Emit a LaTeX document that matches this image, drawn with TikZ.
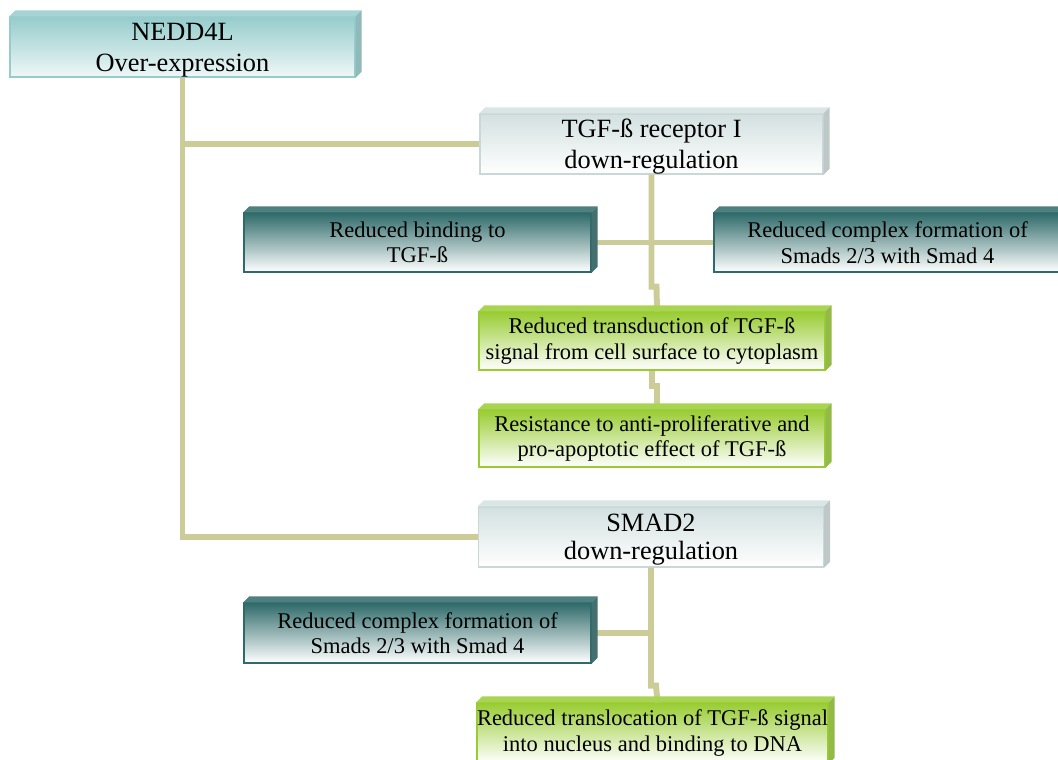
\documentclass[tikz,border=0pt]{standalone}
\usepackage{fontspec}
\setmainfont{Liberation Serif}
\usetikzlibrary{calc}

\definecolor{neddc}{HTML}{96CCCC}
\definecolor{greyc}{HTML}{D3E0E0}
\definecolor{darkc}{HTML}{2F6A6A}
\definecolor{greenc}{HTML}{99CC33}
\definecolor{linkc}{HTML}{CCCC99}

\begin{document}
\begin{tikzpicture}[x=0.02cm,y=-0.02cm,
  box/.style={draw,line width=0.8pt,inner sep=0pt,minimum height=1.2cm,
              align=center,font=\fontsize{12.8}{14.5}\selectfont},
  % big boxes: text sits a bit low
  bigbox/.style={box,font=\fontsize{15}{17.5}\selectfont,text depth=-6pt},
  nedd/.style={bigbox,draw=neddc,top color=neddc,bottom color=neddc!15},
  grey/.style={bigbox,draw=greyc!90!gray,top color=greyc,bottom color=white},
  dark/.style={box,draw=darkc,top color=darkc,middle color=darkc!35,bottom color=white},
  green/.style={box,draw=greenc,top color=greenc,middle color=greenc!30,bottom color=white},
  link/.style={draw=linkc,line width=3.4pt}
]
  \useasboundingbox (0,0) rectangle (1058,760);

  % Boxes: NEDD4L top-left, two branches down the middle
  \node[nedd,minimum width=6.9cm]   (nedd)   at (182.5,47)  {NEDD4L\\Over-expression};
  \node[grey,minimum width=6.86cm]  (tgfr)   at (651.5,144) {TGF-ß receptor I\\down-regulation};
  \node[dark,minimum width=6.94cm,minimum height=1.18cm] (bind) at (417.5,242.5) {Reduced binding to\\TGF-ß};
  \node[dark,minimum width=6.94cm,minimum height=1.18cm] (cplx) at (887.5,242.5) {Reduced complex formation of\\Smads 2/3 with Smad 4};
  \node[green,minimum width=6.92cm,minimum height=1.16cm] (trans)  at (652,341)   {Reduced transduction of TGF-ß\\signal from cell surface to cytoplasm};
  \node[green,minimum width=6.92cm,minimum height=1.14cm] (resist) at (652,438.5) {Resistance to anti-proliferative and\\pro-apoptotic effect of TGF-ß};
  \node[grey,minimum width=6.9cm]   (smad)   at (651,537)   {SMAD2\\[-1.5pt]down-regulation};
  \node[dark,minimum width=6.94cm]  (cplx2)  at (417.5,633) {Reduced complex formation of\\Smads 2/3 with Smad 4};
  \node[green,minimum width=7.02cm] (transl) at (652.5,733) {Reduced translocation of TGF-ß signal\\into nucleus and binding to DNA};

  % NEDD4L -> both down-regulations
  \draw[link] (nedd.south) -- (nedd.south |- smad.west) -- (smad.west);
  \draw[link] (nedd.south |- tgfr.west) -- (tgfr.west);

  % receptor branch, with the small jogs
  \draw[link] (tgfr.south) -- ++(0,112) -- ++(5,0) -- ($(trans.north)+(5,0)$);
  \draw[link] (bind.east) -- (cplx.west);
  \draw[link] (trans.south) -- ++(0,15) -- ++(5,0) -- ($(resist.north)+(5,0)$);

  % SMAD2 branch
  \draw[link] (smad.south) -- ++(0,118) -- ++(5,0) -- ($(transl.north)+(5,0)$);
  \draw[link] (cplx2.east) -- (cplx2.east -| smad.south);

  % bevels: top face and right face of every box
  \foreach \n/\c in {nedd/neddc,tgfr/greyc,smad/greyc,bind/darkc,cplx/darkc,cplx2/darkc,
                     trans/greenc,resist/greenc,transl/greenc} {
    \fill[\c!85!white] (\n.north west) -- ++(6,-6) -- ($(\n.north east)+(6,-6)$) -- (\n.north east) -- cycle;
    \fill[\c!75!gray] (\n.north east) -- ++(6,-6) -- ($(\n.south east)+(6,-6)$) -- (\n.south east) -- cycle;
  }
\end{tikzpicture}
\end{document}
